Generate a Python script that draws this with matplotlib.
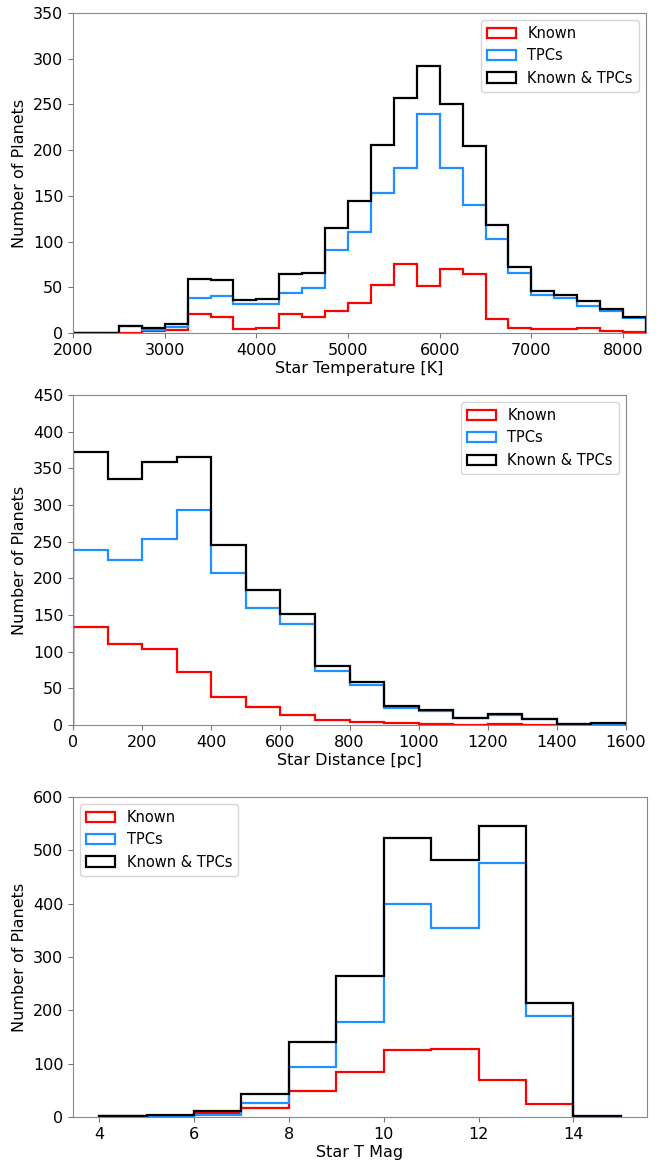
import matplotlib.pyplot as plt
import numpy as np

# star temperature, 250 K bins from 2000 to 8250
temp_edges = np.arange(2000, 8251, 250)
temp_known = [0, 0, 0, 2, 3, 21, 17, 4, 5, 21, 17, 24, 33, 53, 76, 51, 70, 65,
              15, 6, 4, 4, 5, 2, 1]
temp_tpcs = [0, 0, 8, 3, 7, 38, 41, 32, 32, 44, 49, 91, 111, 153, 181, 240, 181,
             140, 103, 66, 42, 38, 30, 24, 16]
temp_all = [0, 0, 8, 5, 10, 59, 58, 36, 37, 65, 66, 115, 144, 206, 257, 292, 251,
            205, 118, 72, 46, 42, 35, 26, 17]

# star distance, 100 pc bins from 0 to 1600
dist_edges = np.arange(0, 1601, 100)
dist_known = [134, 110, 104, 72, 38, 25, 14, 7, 4, 3, 1, 0, 1, 0, 0, 2]
dist_tpcs = [238, 225, 254, 293, 207, 159, 138, 73, 54, 23, 19, 9, 14, 8, 1, 1]
dist_all = [372, 335, 358, 365, 245, 184, 152, 80, 58, 26, 20, 9, 15, 8, 1, 3]

# TESS magnitude, unit bins from 4 to 15
mag_edges = np.arange(4, 16, 1)
mag_known = [1, 2, 8, 17, 48, 85, 125, 128, 70, 24, 0]
mag_tpcs = [1, 1, 3, 27, 93, 179, 399, 354, 476, 189, 1]
mag_all = [2, 3, 11, 44, 141, 265, 524, 482, 546, 213, 1]

W, H = 671, 1161
fig = plt.figure(figsize=(W / 100, H / 100), dpi=100)


def axes_px(left, top, right, bottom):
    return fig.add_axes([left / W, 1 - bottom / H, (right - left) / W, (bottom - top) / H])


def plot(ax, edges, known, tpcs, both, xlabel, loc):
    for counts, color, label in [(known, "red", "Known"),
                                 (tpcs, "dodgerblue", "TPCs"),
                                 (both, "black", "Known & TPCs")]:
        ax.hist(edges[:-1], bins=edges, weights=counts, histtype="step",
                color=color, linewidth=1.6, label=label)
    ax.set_xlabel(xlabel, fontsize=11.5, labelpad=2)
    ax.set_ylabel("Number of Planets", fontsize=11.5)
    ax.tick_params(axis="both", labelsize=11.5, color="#777777")
    for s in ax.spines.values():
        s.set_color("#888888")
    ax.legend(loc=loc, fontsize=10.5)


ax1 = axes_px(73, 13, 646, 333)
plot(ax1, temp_edges, temp_known, temp_tpcs, temp_all, "Star Temperature [K]", "upper right")
ax1.set_xlim(2000, 8250)
ax1.set_ylim(0, 350)

ax2 = axes_px(73, 395, 626, 725)
plot(ax2, dist_edges, dist_known, dist_tpcs, dist_all, "Star Distance [pc]", "upper right")
ax2.set_xlim(0, 1600)
ax2.set_ylim(0, 450)

ax3 = axes_px(73, 797, 647, 1117)
plot(ax3, mag_edges, mag_known, mag_tpcs, mag_all, "Star T Mag", "upper left")
ax3.set_ylim(0, 600)

fig.savefig("out.png", dpi=100)
